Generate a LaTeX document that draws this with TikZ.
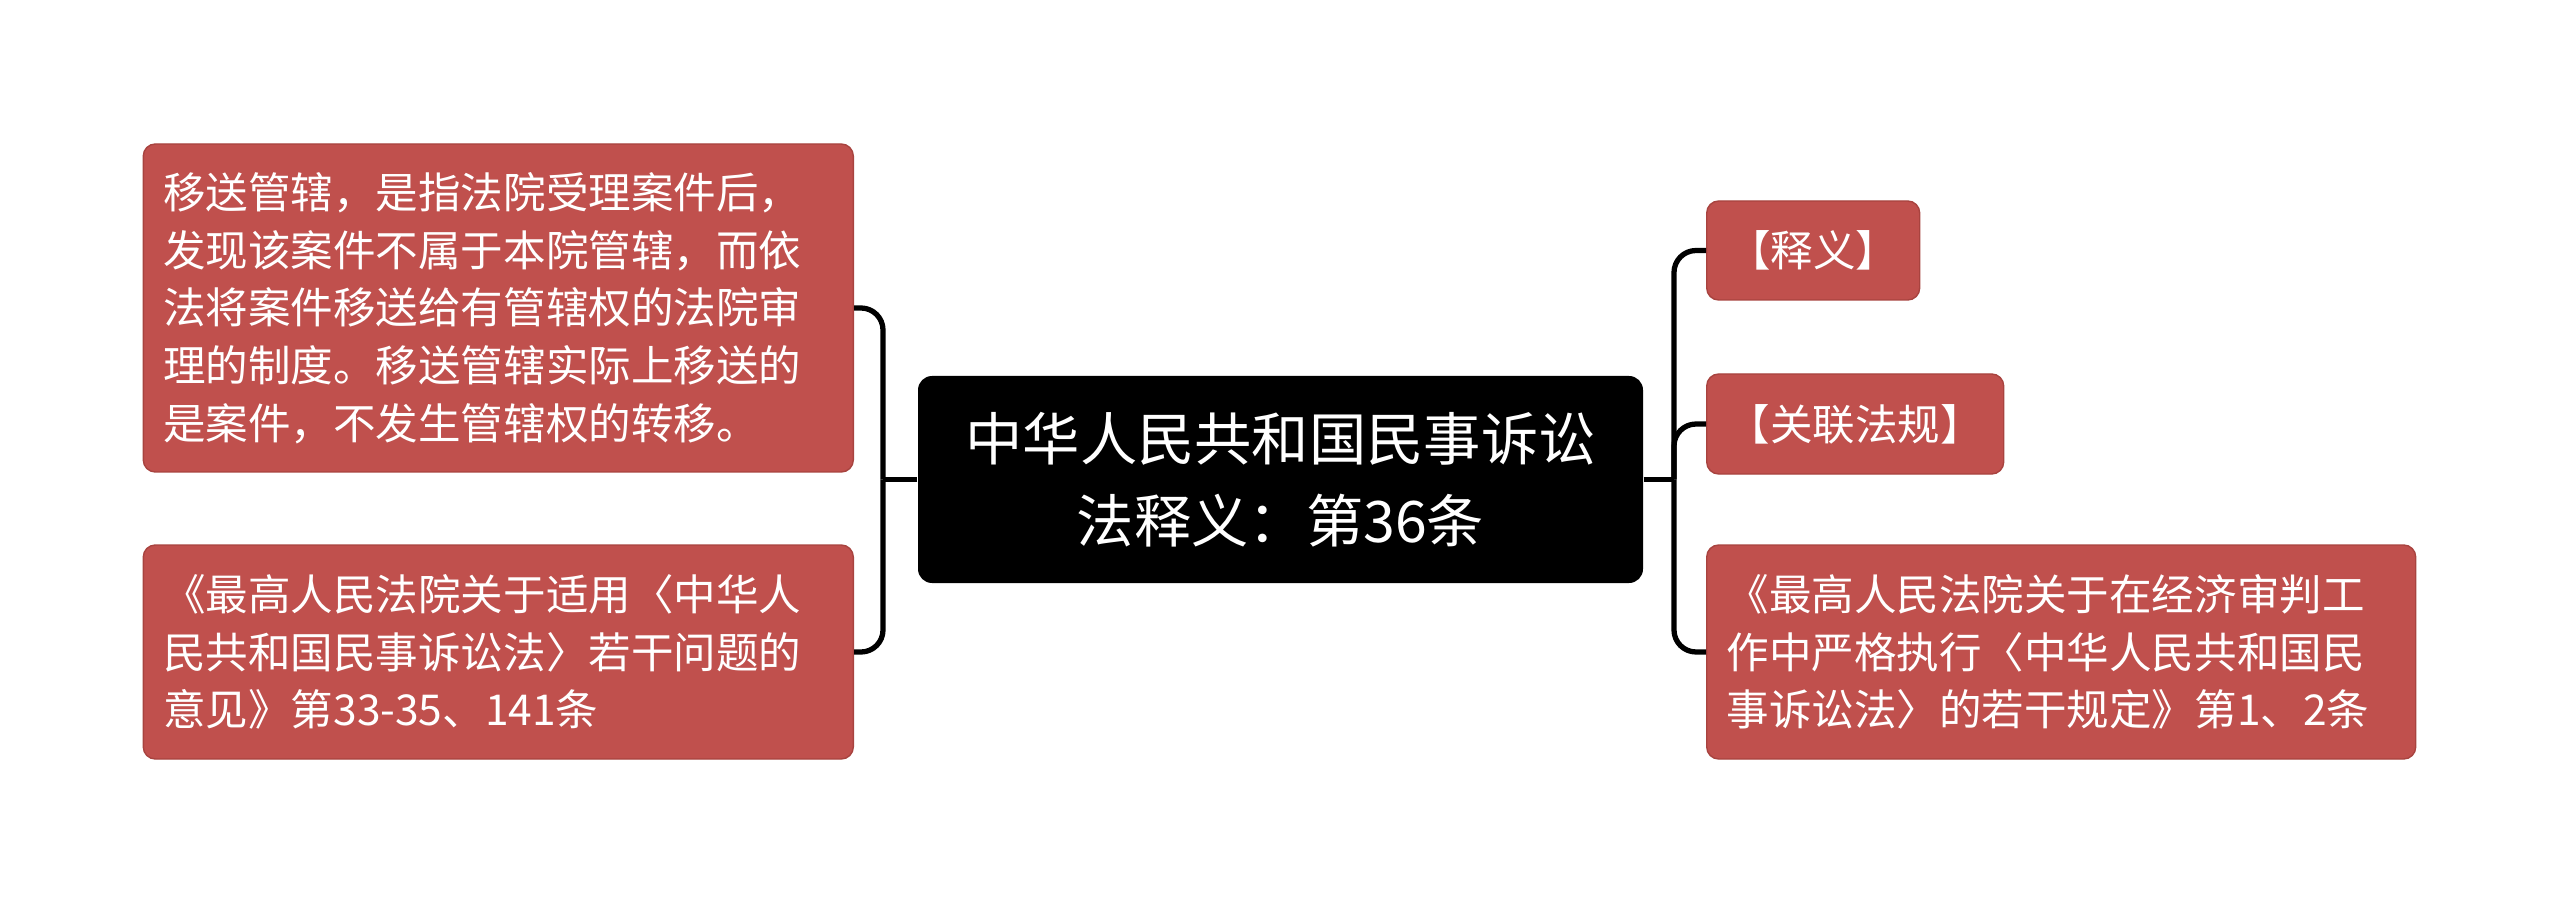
\documentclass[tikz,border=0pt]{standalone}
\usepackage{fontspec}
\usepackage{tikz}
\usepackage{color}
\newfontfamily\cjk{Noto Sans CJK SC}
\definecolor{leafred}{HTML}{C0504D}
\definecolor{leafedge}{HTML}{A8433F}
\tikzstyle{leaf} = [rectangle, rounded corners=0.12cm, fill=leafred, draw=leafedge, line width=0.4pt, text=white, font=\cjk\fontsize{12.1}{16.4}\selectfont, inner xsep=0.2cm, inner ysep=0cm, align=left]
\tikzstyle{root} = [rectangle, rounded corners=0.14cm, fill=black, text=white, font=\cjk\fontsize{16.3}{23.5}\selectfont, inner sep=0cm, align=center]
\tikzstyle{link} = [line width=1.5pt, rounded corners=0.22cm]

\begin{document}
\begin{tikzpicture}
\useasboundingbox (0,0) rectangle (25.6,9.03);

\node[root, minimum width=7.25cm, minimum height=2.07cm] (main) at (12.805,4.235)
 {中华人民共和国民事诉讼\\法释义：第36条};

\node[leaf, anchor=east, text width=6.7cm, minimum height=3.28cm] (l1) at (8.54,5.95)
 {移送管辖，是指法院受理案件后，\\发现该案件不属于本院管辖，而依\\法将案件移送给有管辖权的法院审\\理的制度。移送管辖实际上移送的\\是案件，不发生管辖权的转移。};
\node[leaf, anchor=east, text width=6.7cm, minimum height=2.14cm] (l2) at (8.54,2.51)
 {《最高人民法院关于适用〈中华人\\民共和国民事诉讼法〉若干问题的\\意见》第33-35、141条};

\node[leaf, anchor=west, minimum width=2.13cm, minimum height=0.99cm] (r1) at (17.06,6.525) {【释义】};
\node[leaf, anchor=west, minimum width=2.97cm, minimum height=1.0cm] (r2) at (17.06,4.79) {【关联法规】};
\node[leaf, anchor=west, text width=6.69cm, minimum height=2.14cm] (r3) at (17.06,2.51)
 {《最高人民法院关于在经济审判工\\作中严格执行〈中华人民共和国民\\事诉讼法〉的若干规定》第1、2条};

\coordinate (lj) at (8.83,4.235);
\coordinate (rj) at (16.74,4.235);

\draw[link] (main.west) -- (lj);
\draw[link] (main.east) -- (rj);
\foreach \n in {l1,l2}
{
 \draw[link] (lj) |- (\n.east);
}
\foreach \n in {r1,r2,r3}
{
 \draw[link] (rj) |- (\n.west);
}

\end{tikzpicture}
\end{document}
